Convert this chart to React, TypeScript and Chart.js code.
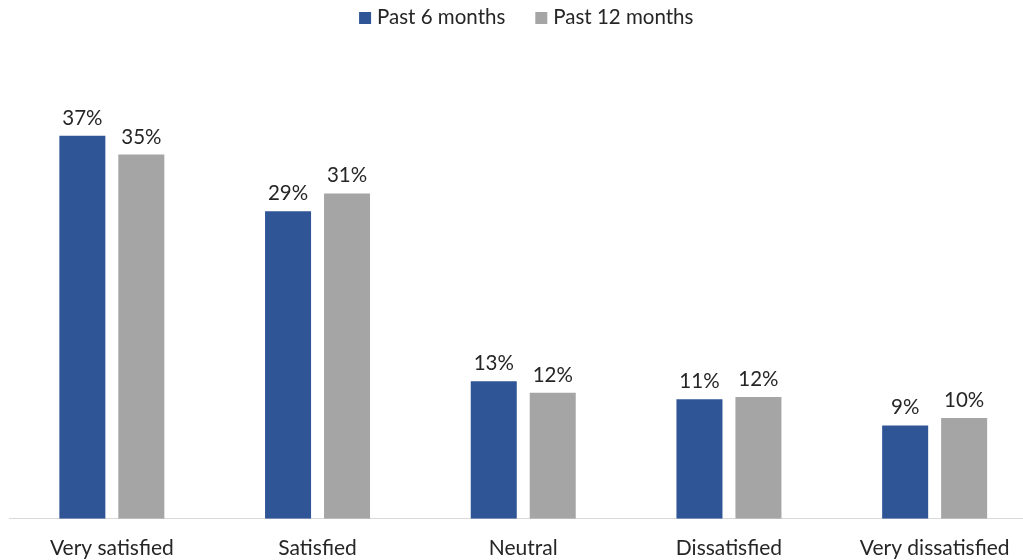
import React, { useEffect, useRef } from "react";
import { Chart, registerables } from "chart.js";

Chart.register(...registerables);

const categories = ["Very satisfied", "Satisfied", "Neutral", "Dissatisfied", "Very dissatisfied"];
const seriesNames = ["Past 6 months", "Past 12 months"];
const past6Months = [36.5, 29.3, 13.1, 11.4, 8.9];
const past12Months = [34.7, 31.0, 12.0, 11.6, 9.6];
const seriesColors = ["#2F5597", "#A5A5A5"];

const FONT = "Lato";
const TEXT_COLOR = "#262626";

const dataLabelPlugin = {
  id: "dataLabels",
  afterDatasetsDraw(chart: any) {
    const ctx = chart.ctx;
    ctx.save();
    ctx.font = `20.5px ${FONT}`;
    ctx.fillStyle = TEXT_COLOR;
    ctx.textAlign = "center";
    ctx.textBaseline = "alphabetic";
    chart.data.datasets.forEach((ds: any, i: number) => {
      const meta = chart.getDatasetMeta(i);
      meta.data.forEach((bar: any, j: number) => {
        const v = ds.data[j];
        ctx.fillText(`${Math.round(v)}%`, bar.x, bar.y - 11);
      });
    });
    ctx.restore();
  },
};

const legendPlugin = {
  id: "customLegend",
  afterDraw(chart: any) {
    const ctx = chart.ctx;
    ctx.save();
    ctx.font = `20.5px ${FONT}`;
    ctx.textBaseline = "alphabetic";
    ctx.textAlign = "left";
    const box = 12;
    const gap = 6;
    const itemGap = 30;
    const items = chart.data.datasets.map((ds: any) => ({
      label: ds.label,
      color: ds.backgroundColor,
      w: ctx.measureText(ds.label).width,
    }));
    const total = items.reduce((s: number, it: any) => s + box + gap + it.w, 0) + itemGap * (items.length - 1);
    const cx = (chart.chartArea.left + chart.chartArea.right) / 2 + 3;
    let x = cx - total / 2;
    items.forEach((it: any) => {
      ctx.fillStyle = it.color;
      ctx.fillRect(x, 12, box, box);
      x += box + gap;
      ctx.fillStyle = TEXT_COLOR;
      ctx.fillText(it.label, x, 23.5);
      x += it.w + itemGap;
    });
    ctx.restore();
  },
};

export default function App() {
  const canvasRef = useRef<HTMLCanvasElement | null>(null);

  useEffect(() => {
    if (!canvasRef.current) return;
    const chart = new Chart(canvasRef.current, {
      type: "bar",
      data: {
        labels: categories,
        datasets: [
          {
            label: seriesNames[0],
            data: past6Months,
            backgroundColor: seriesColors[0],
            categoryPercentage: 0.5735,
            barPercentage: 0.78,
          },
          {
            label: seriesNames[1],
            data: past12Months,
            backgroundColor: seriesColors[1],
            categoryPercentage: 0.5735,
            barPercentage: 0.78,
          },
        ],
      },
      options: {
        responsive: false,
        animation: false,
        devicePixelRatio: 1,
        layout: { padding: { top: 99, left: 9, right: 7.5, bottom: -18 } },
        plugins: {
          legend: { display: false },
          tooltip: { enabled: false },
        },
        scales: {
          x: {
            grid: { display: false, drawTicks: false },
            border: { display: true, color: "#D9D9D9", width: 1 },
            ticks: {
              font: { family: FONT, size: 21 },
              color: TEXT_COLOR,
              padding: 17,
              maxRotation: 0,
              autoSkip: false,
            },
          },
          y: { display: false, min: 0, max: 40 },
        },
      },
      plugins: [dataLabelPlugin, legendPlugin],
    });
    return () => chart.destroy();
  }, []);

  return (
    <div
      style={{
        position: "fixed",
        left: 0,
        top: 0,
        width: 1023,
        height: 560,
        overflow: "hidden",
        background: "#ffffff",
      }}
    >
      <canvas ref={canvasRef} width={1045} height={560} style={{ width: 1045, height: 560, display: "block" }} />
    </div>
  );
}
